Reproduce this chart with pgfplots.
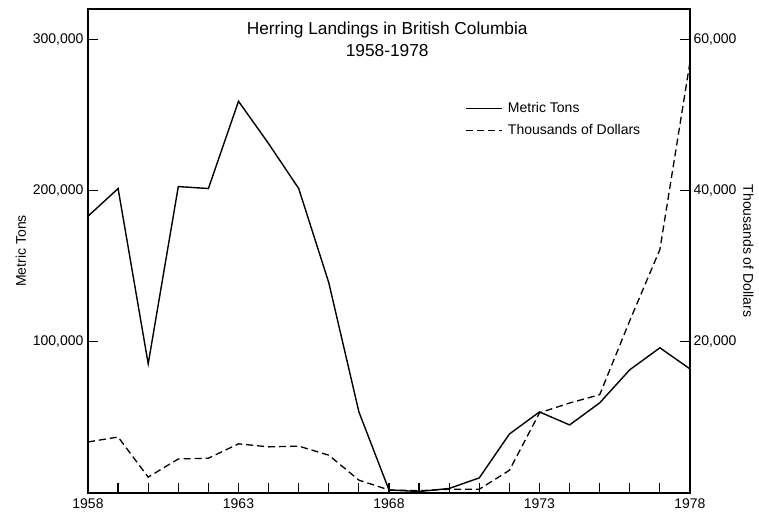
\documentclass[border=0pt]{standalone}
\usepackage{fontspec}
\setmainfont{Liberation Sans}
\usepackage{pgfplots}
\pgfplotsset{compat=1.18}
\begin{document}
\begin{tikzpicture}
\pgfplotsset{
  common/.style={
    scale only axis, width=602pt, height=484pt,
    xmin=1958, xmax=1978,
    axis line style={line width=1.3pt},
    tick style={line width=1.2pt, black},
    major tick length=10pt,
    tick align=inside,
    ticklabel style={font=\fontsize{14}{16}\selectfont},
    label style={font=\fontsize{14}{16}\selectfont},
    /pgf/number format/assume math mode=true,
  }
}
\begin{axis}[common,
  ymin=0, ymax=320000,
  xtick={1958,...,1978},
  xticklabels={1958,,,,,1963,,,,,1968,,,,,1973,,,,,1978},
  xtick pos=bottom,
  ytick={100000,200000,300000},
  yticklabels={{100,000},{200,000},{300,000}},
  ytick pos=left,
  yticklabel style={xshift=-1pt},
  scaled y ticks=false,
  ylabel={Metric Tons},
  xticklabel style={yshift=-2pt},
]
\addplot[black, line width=1.4pt] coordinates {
(1958,183000) (1959,201300) (1960,85400) (1961,202600) (1962,201300)
(1963,259000) (1964,231000) (1965,201300) (1966,139000) (1967,53600)
(1968,2000) (1969,1000) (1970,3000) (1971,10000) (1972,39000)
(1973,53600) (1974,45000) (1975,59600) (1976,81500) (1977,96000) (1978,82000)
};
\node[align=center, anchor=north, font=\fontsize{17.3}{22}\selectfont] at (rel axis cs:0.497,0.98) {Herring Landings in British Columbia\\1958-1978};
\coordinate (bl) at (rel axis cs:0,0);
\end{axis}
\begin{axis}[common,
  ymin=0, ymax=64000,
  axis x line=none,
  axis y line*=right,
  ytick={20000,40000,60000},
  yticklabels={{20,000},{40,000},{60,000}},
  scaled y ticks=false,
  ylabel={Thousands of Dollars},
  ylabel style={rotate=180},
  legend style={at={(0.622,0.815)}, anchor=north west, draw=none, fill=none,
    font=\fontsize{14}{16}\selectfont, row sep=6pt,
    /tikz/every odd column/.append style={column sep=3pt}},
  legend cell align=left,
  legend image code/.code={\draw[#1] (0pt,0pt) -- (36pt,0pt);},
]
\addlegendimage{black, line width=1.3pt}
\addlegendentry{Metric Tons}
\addplot[black, line width=1.3pt, dash pattern=on 7pt off 4pt] coordinates {
(1958,6750) (1959,7400) (1960,2100) (1961,4500) (1962,4600)
(1963,6500) (1964,6100) (1965,6200) (1966,5000) (1967,1700)
(1968,400) (1969,300) (1970,500) (1971,500) (1972,3000)
(1973,10600) (1974,11900) (1975,13000) (1976,22800) (1977,32200) (1978,57000)
};
\addlegendentry{Thousands of Dollars}
\end{axis}
\path (bl) ++(-88pt,-23pt) rectangle ++(759pt,516pt);
\end{tikzpicture}
\end{document}
